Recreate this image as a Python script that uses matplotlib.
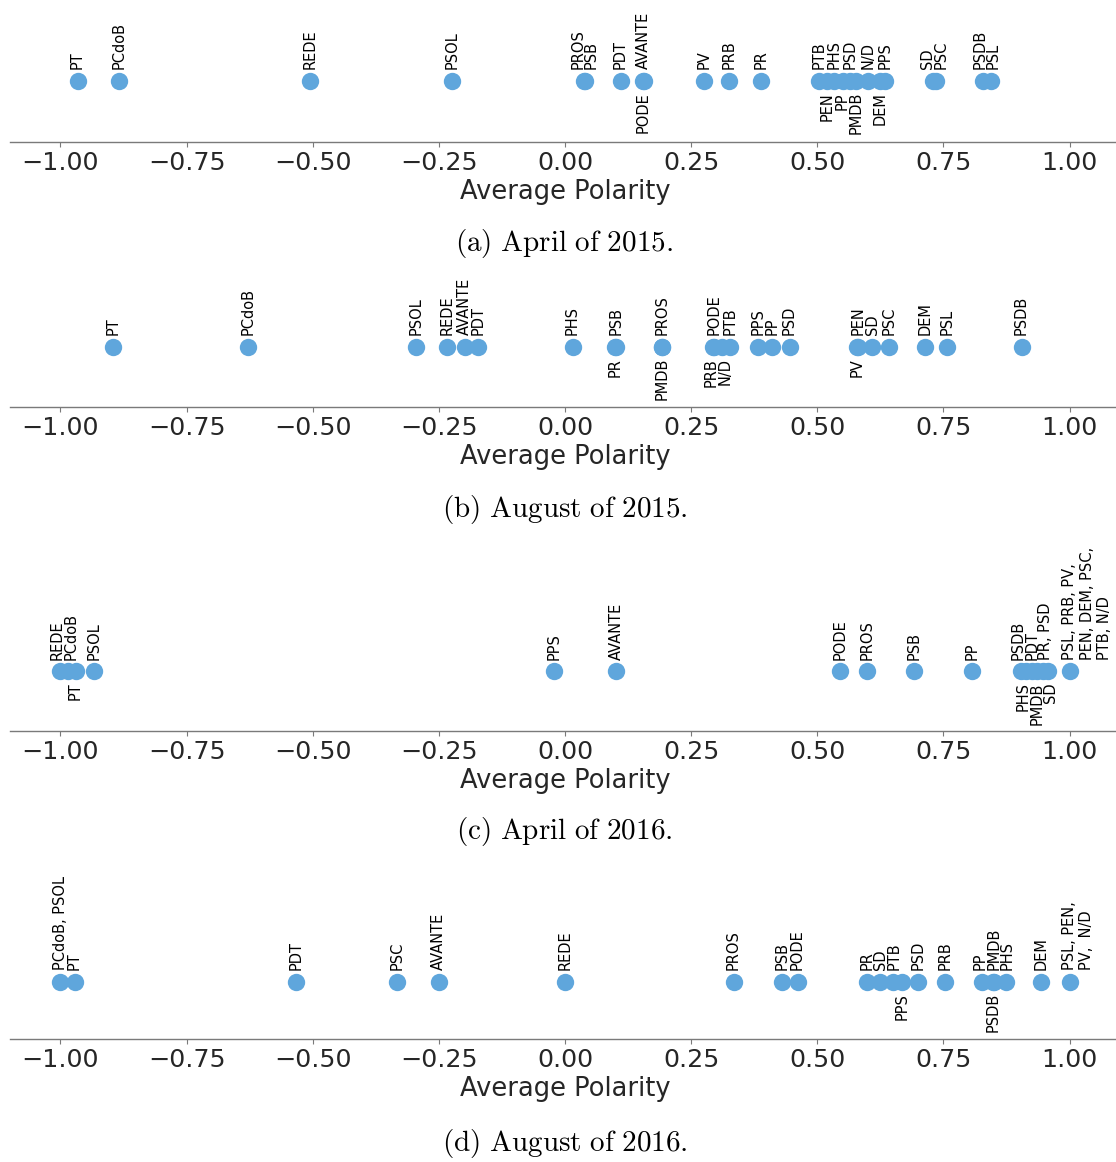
import numpy as np
import matplotlib.pyplot as plt

plt.rcParams['mathtext.fontset'] = 'cm'
plt.rcParams['font.family'] = ['DejaVu Sans']

# (a) April of 2015
names_a = ['PT', 'PCdoB', 'REDE', 'PSOL', 'PROS', 'PSB', 'PDT', 'PODE', 'AVANTE',
           'PV', 'PRB', 'PR', 'PTB', 'PEN', 'PHS', 'PP', 'PSD', 'PMDB', 'N/D',
           'DEM', 'PPS', 'SD', 'PSC', 'PSDB', 'PSL']
vals_a = [-0.966, -0.883, -0.506, -0.223, 0.037, 0.040, 0.110, 0.155, 0.156,
          0.276, 0.325, 0.388, 0.503, 0.519, 0.534, 0.550, 0.565, 0.576, 0.600,
          0.625, 0.635, 0.730, 0.735, 0.828, 0.844]
below_a = ['PODE', 'PEN', 'PP', 'PMDB', 'DEM']

# (b) August of 2015
names_b = ['PT', 'PCdoB', 'PSOL', 'REDE', 'AVANTE', 'PDT', 'PHS', 'PR', 'PSB',
           'PMDB', 'PROS', 'PRB', 'PODE', 'N/D', 'PTB', 'PPS', 'PP', 'PSD', 'PV',
           'PEN', 'SD', 'PSC', 'DEM', 'PSL', 'PSDB']
vals_b = [-0.895, -0.628, -0.296, -0.234, -0.199, -0.172, 0.015, 0.100, 0.102,
          0.193, 0.193, 0.294, 0.296, 0.312, 0.328, 0.383, 0.410, 0.445, 0.578,
          0.580, 0.609, 0.642, 0.714, 0.758, 0.905]
below_b = ['PR', 'PMDB', 'PRB', 'N/D', 'PV']

# (c) April of 2016
names_c = ['REDE', 'PCdoB', 'PT', 'PSOL', 'PPS', 'AVANTE', 'PODE', 'PROS', 'PSB',
           'PP', 'PSDB', 'PHS', 'PDT', 'PMDB', 'PR, PSD', 'SD',
           'PSL, PRB, PV,\nPEN, DEM, PSC,\nPTB, N/D']
vals_c = [-1.0, -0.985, -0.970, -0.934, -0.022, 0.101, 0.546, 0.598, 0.692,
          0.807, 0.904, 0.913, 0.925, 0.935, 0.947, 0.957, 1.0]
below_c = ['PT', 'PHS', 'PMDB', 'SD']

# (d) August of 2016
names_d = ['PCdoB, PSOL', 'PT', 'PDT', 'PSC', 'AVANTE', 'REDE', 'PROS', 'PSB',
           'PODE', 'PR', 'SD', 'PTB', 'PPS', 'PSD', 'PRB', 'PP', 'PSDB', 'PMDB',
           'PHS', 'DEM', 'PSL, PEN,\nPV,  N/D']
vals_d = [-1.0, -0.972, -0.533, -0.333, -0.250, 0.0, 0.334, 0.430, 0.461,
          0.598, 0.625, 0.651, 0.668, 0.699, 0.754, 0.826, 0.848, 0.850,
          0.874, 0.943, 1.0]
below_d = ['PPS', 'PSDB']

captions = [r'$\mathrm{(a)\ April\ of\ 2015.}$',
            r'$\mathrm{(b)\ August\ of\ 2015.}$',
            r'$\mathrm{(c)\ April\ of\ 2016.}$',
            r'$\mathrm{(d)\ August\ of\ 2016.}$']

ticks = [-1.0, -0.75, -0.5, -0.25, 0.0, 0.25, 0.5, 0.75, 1.0]

DOT = '#5fa6dc'
LABEL_FS = 10.5
W, H = 1116, 1162
fig = plt.figure(figsize=(W / 100, H / 100), dpi=100)


def spread(xs, gap):
    """push label positions apart so neighbours are at least `gap` apart"""
    xs = np.asarray(xs, float)
    order = np.argsort(xs, kind='stable')
    pos = xs[order].copy()
    for _ in range(500):
        moved = False
        for i in range(len(pos) - 1):
            d = pos[i + 1] - pos[i]
            if d < gap - 1e-9:
                push = (gap - d) / 2
                pos[i] -= push
                pos[i + 1] += push
                moved = True
        if not moved:
            break
    out = np.empty_like(pos)
    out[order] = pos
    return out


panels = [(names_a, vals_a, below_a), (names_b, vals_b, below_b),
          (names_c, vals_c, below_c), (names_d, vals_d, below_d)]
# dot row y, axis line y, caption y (pixels from top)
layout = [(80.7, 141.5, 243), (346.7, 406.7, 510),
          (671.0, 730.5, 832), (981.7, 1039.3, 1143)]

for (names, vals, below), (dot_y, spine_y, cap_y), cap in zip(panels, layout, captions):
    ax = fig.add_axes([10 / W, 1 - spine_y / H, 1110 / W, 2 * (spine_y - dot_y) / H])
    ax.set_xlim(-1.1, 1.1)
    ax.set_ylim(-1, 1)
    ax.plot(vals, np.zeros(len(vals)), 'o', ms=12.5, mew=0, color=DOT, clip_on=False)

    px_per_unit = ax.bbox.width / 2.2
    gap = 13.5 / px_per_unit
    for side in ('up', 'down'):
        idx = [i for i, n in enumerate(names) if (n in below) == (side == 'down')]
        xs = spread([vals[i] for i in idx], gap)
        for i, x in zip(idx, xs):
            # keep the first line of a multi-line label on the dot
            nl = names[i].count('\n')
            dx = nl * 0.5 * 1.2 * LABEL_FS
            if side == 'up':
                ax.annotate(names[i], xy=(x, 0), xytext=(dx, 8.2), textcoords='offset points',
                            rotation=90, ha='center', va='bottom', multialignment='left',
                            fontsize=LABEL_FS, color='black')
            else:
                ax.annotate(names[i], xy=(x, 0), xytext=(dx, -8.2), textcoords='offset points',
                            rotation=90, ha='center', va='top', multialignment='right',
                            fontsize=LABEL_FS, color='black')

    for s in ('top', 'left', 'right'):
        ax.spines[s].set_visible(False)
    ax.spines['bottom'].set_color('#7a7a7a')
    ax.spines['bottom'].set_linewidth(1.0)
    ax.set_yticks([])
    ax.set_xticks(ticks)
    ax.set_xticklabels(['%.2f' % t if t >= 0 else '\u2212%.2f' % abs(t) for t in ticks])
    ax.tick_params(axis='x', direction='out', length=3.5, width=0.8, color='#7a7a7a',
                   labelsize=18.3, labelcolor='#262626', pad=3)
    ax.set_xlabel('Average Polarity', fontsize=18.5, color='#262626', labelpad=3)
    ax.patch.set_alpha(0)

    fig.text(564.5 / W, 1 - cap_y / H, cap, ha='center', va='center', fontsize=21)

fig.savefig('out.png', dpi=100, facecolor='white')
